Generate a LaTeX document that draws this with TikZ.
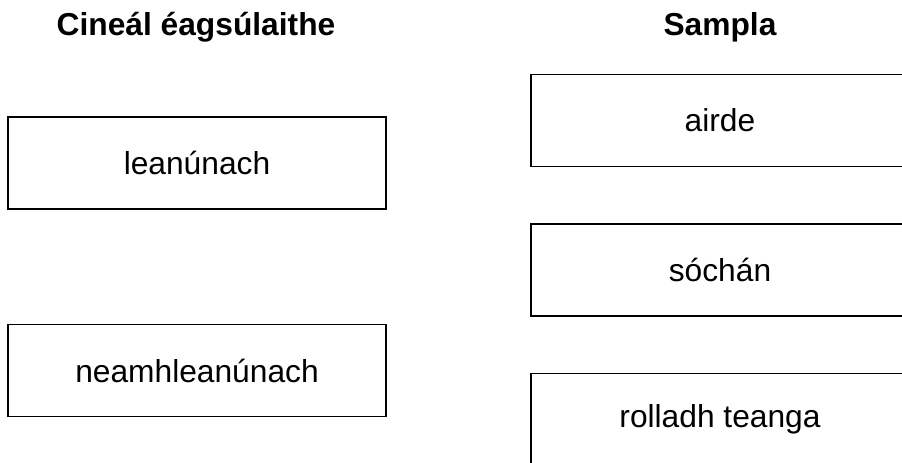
\documentclass[tikz,border=0pt]{standalone}
\usepackage{fontspec}
\setmainfont{Liberation Sans}
\usetikzlibrary{positioning}

\begin{document}
\begin{tikzpicture}[
  x=0.75pt, y=-0.75pt,
  node distance=42pt,
  every node/.style={font=\fontsize{23.8pt}{28pt}\selectfont},
  head/.style={font=\fontsize{23.8pt}{28pt}\selectfont\bfseries, anchor=base},
  box/.style={draw, line width=1pt, minimum width=283.5pt, minimum height=69pt, inner sep=0pt}
]
\useasboundingbox (0,0) rectangle (902,462);

\node[head] (typehead) at (196,35) {Cineál éagsúlaithe};
\node[head] (samplehead) at (720,35) {Sampla};

\node[box] (cont) at (197,163) {leanúnach};
\node[box] (disc) at (197,370.5) {neamhleanúnach};

\node[box] (height) at (720,120.5) {airde};
\node[box, below=of height] (mutation) {sóchán};
\node[box, below=of mutation] (tongue) {rolladh teanga};
\end{tikzpicture}
\end{document}
